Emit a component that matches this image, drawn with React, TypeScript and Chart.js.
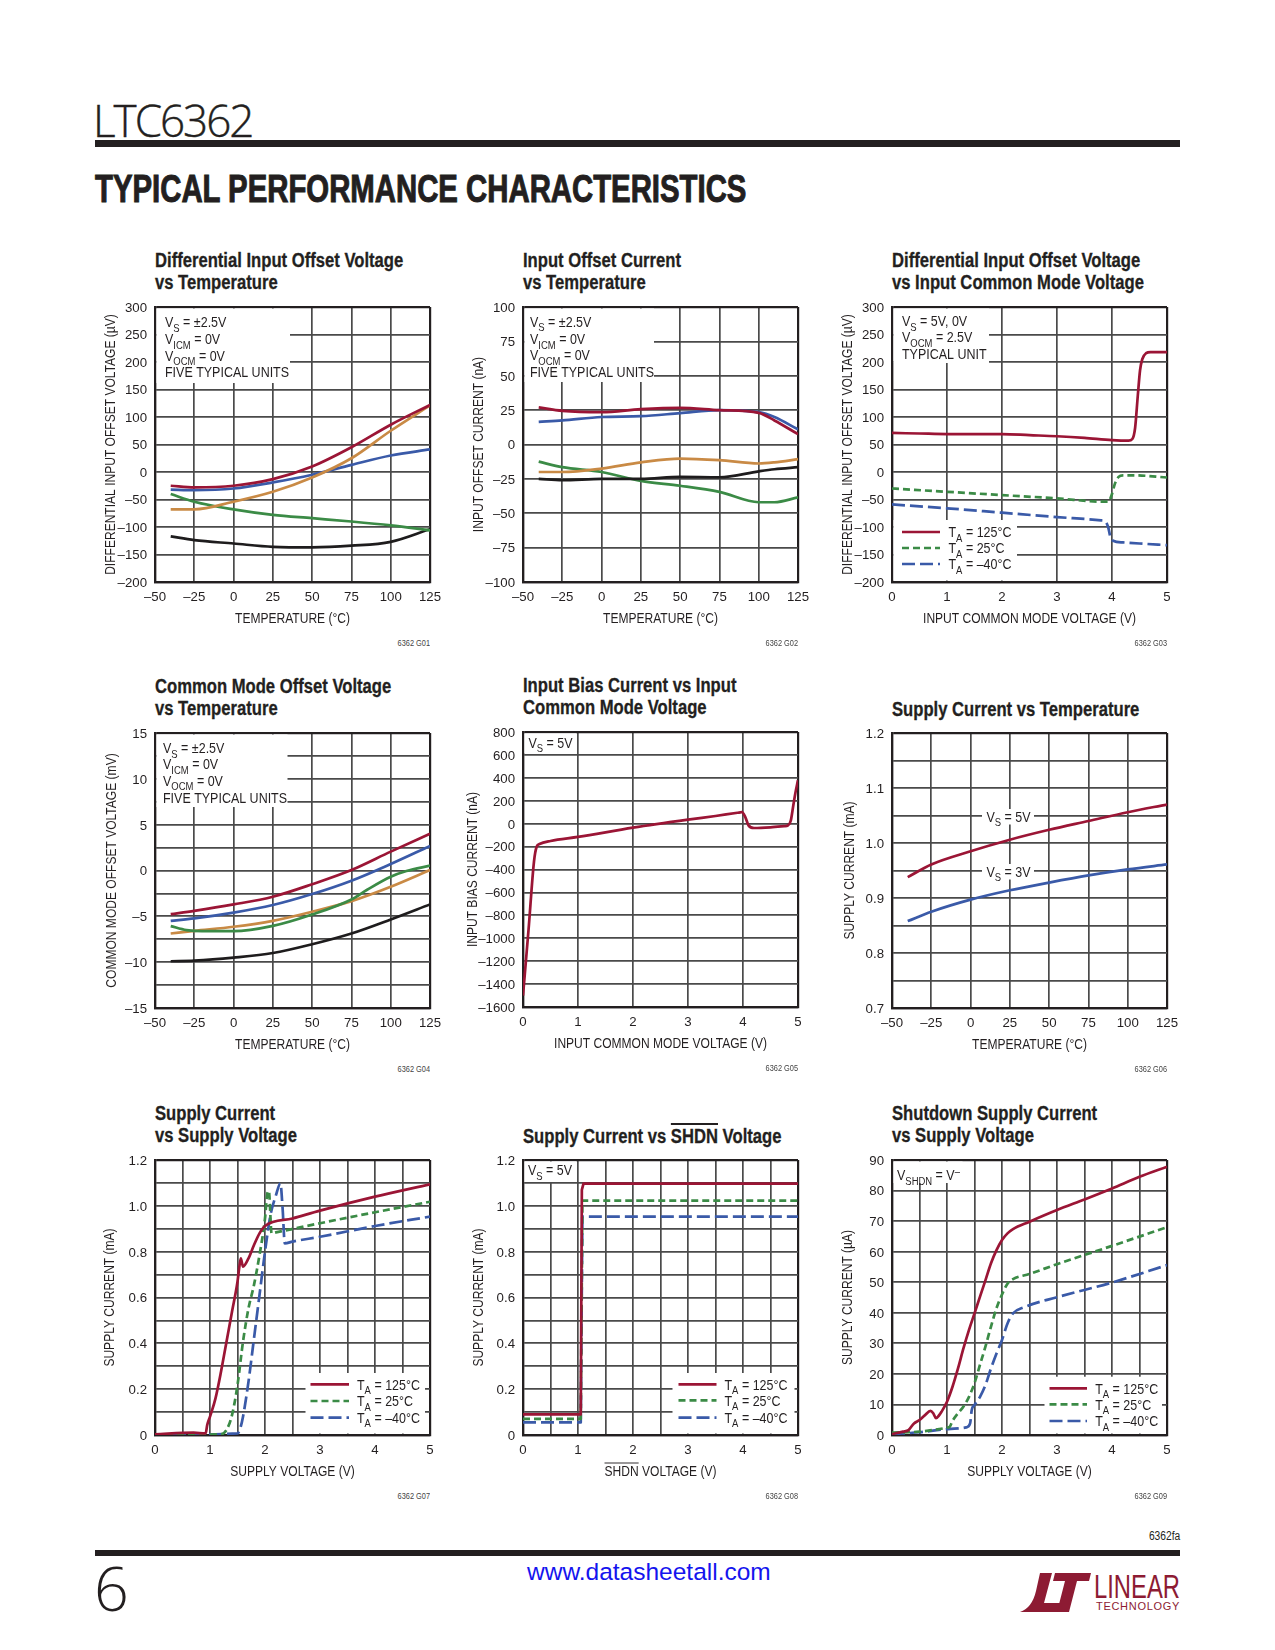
import React, { useEffect, useRef } from "react";
import { Chart, registerables } from "chart.js";

Chart.register(...registerables);

const SANS = '"Liberation Sans", Arial, sans-serif';
const INK = "#231f20";
const GRID = "#4a4a4a";
const RED = "#9b1535";
const BLUE = "#3a5aa8";
const GREEN = "#3b8b46";
const ORANGE = "#c98a45";
const BLACK = "#1e1c1d";
const DASH_25 = [7, 4];
const DASH_M40 = [13, 5];

// ---------- tick arrays ----------
const TEMP_TICKS = [-50, -25, 0, 25, 50, 75, 100, 125];
const VOLT_TICKS = [0, 1, 2, 3, 4, 5];
const VOLT_HALF_TICKS = [0, 0.5, 1, 1.5, 2, 2.5, 3, 3.5, 4, 4.5, 5];
const UV_TICKS = [-200, -150, -100, -50, 0, 50, 100, 150, 200, 250, 300];
const NA_TICKS = [-100, -75, -50, -25, 0, 25, 50, 75, 100];
const MV_TICKS = [-15, -12.5, -10, -7.5, -5, -2.5, 0, 2.5, 5, 7.5, 10, 12.5, 15];
const IB_TICKS = [-1600, -1400, -1200, -1000, -800, -600, -400, -200, 0, 200, 400, 600, 800];
const ISUP_T_TICKS = [0.7, 0.75, 0.8, 0.85, 0.9, 0.95, 1.0, 1.05, 1.1, 1.15, 1.2];
const MA_TICKS = [0, 0.1, 0.2, 0.3, 0.4, 0.5, 0.6, 0.7, 0.8, 0.9, 1.0, 1.1, 1.2];
const UA_TICKS = [0, 10, 20, 30, 40, 50, 60, 70, 80, 90];

// ---------- data ----------
const TEMP_X = [-40, -25, 0, 25, 50, 75, 100, 125];

// G01 differential input offset voltage vs temperature (µV)
const G01_RED = [-25, -28, -25, -13, 10, 45, 86, 122];
const G01_BLUE = [-32, -33, -30, -19, -5, 13, 30, 41];
const G01_ORANGE = [-68, -68, -54, -36, -10, 25, 75, 121];
const G01_GREEN = [-40, -54, -68, -78, -84, -90, -97, -106];
const G01_BLACK = [-117, -124, -130, -136, -137, -134, -127, -104];

// G02 input offset current vs temperature (nA)
const G02_X = [-40, -25, 0, 25, 50, 75, 100, 110, 125];
const G02_RED = [27, 24.5, 23.5, 25.7, 26.7, 25, 23, 17.5, 7.5];
const G02_BLUE = [16.5, 17.5, 20, 20.6, 22.8, 25, 23.5, 20, 11];
const G02_ORANGE = [-20, -20, -17.5, -13, -10.2, -11.4, -13.8, -13, -10.7];
const G02_BLACK = [-25, -26, -25, -25, -23.5, -23.8, -19.5, -18, -16.5];
const G02_GREEN = [-12.5, -16.5, -20, -26.5, -30, -34.5, -42, -42, -38.5];

// G03 differential input offset vs input common mode voltage (µV)
const G03_RED_X = [0, 0.5, 1, 1.5, 2, 2.5, 3, 3.5, 4, 4.3, 4.37, 4.42, 4.47, 4.51, 4.55, 4.62, 4.7, 5];
const G03_RED = [71, 70, 69, 69, 69, 67, 65, 62, 58, 57, 60, 80, 140, 185, 205, 216, 218, 218];
const G03_GREEN_X = [0, 1, 2, 3, 3.85, 3.93, 4.0, 4.05, 4.12, 4.2, 4.4, 5];
const G03_GREEN = [-30, -36, -42, -48, -54, -54, -40, -22, -9, -6, -6, -10];
const G03_BLUE_X = [0, 1, 2, 3, 3.8, 3.88, 3.93, 3.97, 4.02, 4.2, 4.5, 5];
const G03_BLUE = [-59, -66, -74, -82, -88, -90, -100, -118, -125, -128, -130, -133];

// G04 common mode offset voltage vs temperature (mV)
const G04_RED = [-4.76, -4.4, -3.7, -2.86, -1.5, 0.05, 2.06, 4.0];
const G04_BLUE = [-5.5, -5.23, -4.6, -3.77, -2.57, -1.11, 0.71, 2.68];
const G04_ORANGE = [-6.87, -6.58, -6.14, -5.49, -4.5, -3.34, -1.77, 0.05];
const G04_GREEN_X = [-40, -30, -20, 0, 25, 50, 75, 85, 100, 110, 125];
const G04_GREEN = [-6.07, -6.5, -6.62, -6.62, -6.04, -4.8, -3.16, -2.1, -0.68, -0.06, 0.53];
const G04_BLACK = [-9.9, -9.83, -9.5, -9.0, -8.04, -6.87, -5.34, -3.7];

// G05 input bias current vs input common mode voltage (nA)
const G05_X = [0, 0.1, 0.2, 0.25, 0.3, 0.5, 1, 2, 3, 3.5, 3.9, 3.98, 4.04, 4.1, 4.2, 4.5, 4.75, 4.82, 4.87, 4.91, 4.95, 5];
const G05_Y = [-1500, -930, -330, -200, -178, -151, -116, -35, 35, 67, 95, 100, 60, -15, -38, -32, -22, -15, 29, 145, 262, 380];

// G06 supply current vs temperature (mA)
const G06_VS5 = [0.938, 0.961, 0.985, 1.006, 1.024, 1.04, 1.056, 1.07];
const G06_VS3 = [0.858, 0.875, 0.897, 0.914, 0.928, 0.941, 0.952, 0.961];

// G07 supply current vs supply voltage (mA)
const G07_RED_X = [0, 0.7, 0.92, 0.95, 1.0, 1.1, 1.2, 1.3, 1.4, 1.5, 1.53, 1.56, 1.6, 1.7, 1.8, 1.9, 2.0, 2.5, 3, 4, 5];
const G07_RED = [0.003, 0.01, 0.007, 0.044, 0.08, 0.16, 0.276, 0.407, 0.538, 0.669, 0.727, 0.771, 0.735, 0.771, 0.829, 0.88, 0.912, 0.945, 0.979, 1.04, 1.094];
const G07_GREEN_X = [0, 1.2, 1.3, 1.4, 1.5, 1.6, 1.7, 1.8, 1.9, 2.0, 2.04, 2.07, 2.12, 2.2, 3, 4, 5];
const G07_GREEN = [0, 0.003, 0.022, 0.087, 0.218, 0.407, 0.553, 0.655, 0.785, 0.945, 1.05, 1.065, 0.88, 0.884, 0.924, 0.972, 1.018];
const G07_BLUE_X = [0, 1.5, 1.55, 1.6, 1.7, 1.8, 1.9, 2.0, 2.1, 2.2, 2.28, 2.32, 2.36, 2.5, 3, 4, 5];
const G07_BLUE = [0, 0.007, 0.029, 0.08, 0.233, 0.422, 0.611, 0.8, 0.96, 1.047, 1.098, 0.989, 0.836, 0.844, 0.865, 0.912, 0.953];

// G08 supply current vs SHDN voltage (mA)
const G08_RED_X = [0, 1.05, 1.07, 1.1, 5];
const G08_RED = [0.09, 0.09, 1.07, 1.097, 1.097];
const G08_GREEN_X = [0, 1.05, 1.08, 5];
const G08_GREEN = [0.07, 0.07, 1.023, 1.023];
const G08_BLUE_X = [0, 1.05, 1.08, 5];
const G08_BLUE = [0.055, 0.055, 0.953, 0.953];

// G09 shutdown supply current vs supply voltage (µA)
const G09_RED_X = [0, 0.2, 0.3, 0.4, 0.5, 0.6, 0.7, 0.75, 0.8, 0.85, 0.9, 1.0, 1.1, 1.2, 1.3, 1.4, 1.5, 1.6, 1.7, 1.8, 1.9, 2.0, 2.1, 2.2, 2.5, 3, 3.5, 4, 4.5, 5];
const G09_RED = [0.3, 1.1, 1.6, 3.8, 4.9, 6.5, 7.9, 7.1, 5.5, 6.3, 7.6, 10.9, 15.8, 21.8, 28.4, 34.4, 39.8, 45.3, 50.7, 56.2, 60.5, 63.8, 66, 67.4, 69.8, 73.6, 77.1, 80.7, 84.5, 87.8];
const G09_GREEN_X = [0, 0.5, 1.0, 1.05, 1.1, 1.2, 1.3, 1.4, 1.5, 1.6, 1.7, 1.8, 1.9, 2.0, 2.1, 2.2, 2.5, 3, 4, 5];
const G09_GREEN = [0.8, 1.1, 2.4, 2.7, 4.6, 7.1, 9.3, 12.5, 17, 23, 29, 35.5, 41.5, 46, 49.5, 51, 52.7, 55.9, 61.9, 68];
const G09_BLUE_X = [0, 0.5, 1.0, 1.35, 1.42, 1.45, 1.5, 1.6, 1.7, 1.8, 1.9, 2.0, 2.1, 2.2, 2.4, 3, 4, 5];
const G09_BLUE = [0.3, 0.9, 1.9, 2.5, 3.8, 8.2, 9.8, 12.5, 16.4, 21.8, 26.7, 31.1, 36.5, 39.8, 41.8, 45.1, 49.9, 55.6];

// ---------- layout constants ----------
const L_AXIS = 75;
const T_PAD = 20;
const R_PAD = 25;
const B_AXIS = 55;
const PLOT = 275;
const TICK_SIZE = 13.5;
const TICK_SX = 0.98;
const AXT_SIZE = 14;
const AXT_SX = 0.86;
const NOTE_SIZE = 14.5;
const NOTE_SX = 0.86;

type Series = { x: number[]; y: number[]; color: string; dash?: number[]; smooth?: boolean };
type Note = { x: number; y: number; s: string; center?: boolean };
type Sample = { x0: number; x1: number; y: number; color: string; dash?: number[] };
type Panel = {
  id: string;
  left: number;
  top: number;
  title: string[];
  xTitle: string;
  yTitle: string;
  xTicks: number[];
  yTicks: number[];
  xEvery: number;
  yEvery: number;
  yFmt?: (v: number) => string;
  yGap: number;
  series: Series[];
  boxes: number[][];
  notes: Note[];
  samples: Sample[];
  overlineX?: string;
};

const fmtInt = (v: number) => (v < 0 ? "\u2013" + String(-v) : String(v));
const fmt1 = (v: number) => (v === 0 ? "0" : v.toFixed(1));

const tempLegend = (x0: number, x1: number, tx: number, ys: number[]): { samples: Sample[]; notes: Note[] } => ({
  samples: [
    { x0, x1, y: ys[0], color: RED },
    { x0, x1, y: ys[1], color: GREEN, dash: DASH_25 },
    { x0, x1, y: ys[2], color: BLUE, dash: DASH_M40 },
  ],
  notes: [
    { x: tx, y: ys[0], s: "T_{A} = 125°C" },
    { x: tx, y: ys[1], s: "T_{A} = 25°C" },
    { x: tx, y: ys[2], s: "T_{A} = \u201340°C" },
  ],
});

const leg3 = tempLegend(10, 48, 56.5, [225, 241, 257]);
const leg7 = tempLegend(155.5, 194, 202, [224.3, 241, 257.7]);
const leg8 = tempLegend(155.5, 193.5, 201.5, [224.3, 240.3, 257.7]);
const leg9 = tempLegend(157.5, 195, 203.2, [228.3, 244.3, 261]);

const fiveUnits = (x: number, ys: number[]): Note[] => [
  { x, y: ys[0], s: "V_{S} = ±2.5V" },
  { x, y: ys[1], s: "V_{ICM} = 0V" },
  { x, y: ys[2], s: "V_{OCM} = 0V" },
  { x, y: ys[3], s: "FIVE TYPICAL UNITS" },
];

const PANELS: Panel[] = [
  {
    id: "G01", left: 155, top: 307,
    title: ["Differential Input Offset Voltage", "vs Temperature"],
    xTitle: "TEMPERATURE (°C)", yTitle: "DIFFERENTIAL INPUT OFFSET VOLTAGE (\u00b5V)",
    xTicks: TEMP_TICKS, yTicks: UV_TICKS, xEvery: 1, yEvery: 1, yGap: 45,
    series: [
      { x: TEMP_X, y: G01_RED, color: RED, smooth: true },
      { x: TEMP_X, y: G01_ORANGE, color: ORANGE, smooth: true },
      { x: TEMP_X, y: G01_BLUE, color: BLUE, smooth: true },
      { x: TEMP_X, y: G01_GREEN, color: GREEN, smooth: true },
      { x: TEMP_X, y: G01_BLACK, color: BLACK, smooth: true },
    ],
    boxes: [[1.5, 1.5, 135, 76]],
    notes: fiveUnits(10, [15, 32, 48.5, 65]),
    samples: [],
  },
  {
    id: "G02", left: 523, top: 307,
    title: ["Input Offset Current", "vs Temperature"],
    xTitle: "TEMPERATURE (°C)", yTitle: "INPUT OFFSET CURRENT (nA)",
    xTicks: TEMP_TICKS, yTicks: NA_TICKS, xEvery: 1, yEvery: 1, yGap: 45.5,
    series: [
      { x: G02_X, y: G02_RED, color: RED, smooth: true },
      { x: G02_X, y: G02_BLUE, color: BLUE, smooth: true },
      { x: G02_X, y: G02_ORANGE, color: ORANGE, smooth: true },
      { x: G02_X, y: G02_BLACK, color: BLACK, smooth: true },
      { x: G02_X, y: G02_GREEN, color: GREEN, smooth: true },
    ],
    boxes: [[1.5, 1.5, 131, 75]],
    notes: fiveUnits(7, [14.7, 32, 48, 64.7]),
    samples: [],
  },
  {
    id: "G03", left: 892, top: 307,
    title: ["Differential Input Offset Voltage", "vs Input Common Mode Voltage"],
    xTitle: "INPUT COMMON MODE VOLTAGE (V)", yTitle: "DIFFERENTIAL INPUT OFFSET VOLTAGE (\u00b5V)",
    xTicks: VOLT_TICKS, yTicks: UV_TICKS, xEvery: 1, yEvery: 1, yGap: 45.5,
    series: [
      { x: G03_RED_X, y: G03_RED, color: RED, smooth: true },
      { x: G03_GREEN_X, y: G03_GREEN, color: GREEN, dash: DASH_25, smooth: true },
      { x: G03_BLUE_X, y: G03_BLUE, color: BLUE, dash: DASH_M40, smooth: true },
    ],
    boxes: [[1.5, 1.5, 97, 56], [1.5, 213, 125, 273.5]],
    notes: [
      { x: 10, y: 14, s: "V_{S} = 5V, 0V" },
      { x: 10, y: 30, s: "V_{OCM} = 2.5V" },
      { x: 10, y: 47, s: "TYPICAL UNIT" },
      ...leg3.notes,
    ],
    samples: leg3.samples,
  },
  {
    id: "G04", left: 155, top: 733,
    title: ["Common Mode Offset Voltage", "vs Temperature"],
    xTitle: "TEMPERATURE (°C)", yTitle: "COMMON MODE OFFSET VOLTAGE (mV)",
    xTicks: TEMP_TICKS, yTicks: MV_TICKS, xEvery: 1, yEvery: 2, yGap: 44,
    series: [
      { x: TEMP_X, y: G04_RED, color: RED, smooth: true },
      { x: TEMP_X, y: G04_BLUE, color: BLUE, smooth: true },
      { x: G04_GREEN_X, y: G04_GREEN, color: GREEN, smooth: true },
      { x: TEMP_X, y: G04_ORANGE, color: ORANGE, smooth: true },
      { x: TEMP_X, y: G04_BLACK, color: BLACK, smooth: true },
    ],
    boxes: [[1.5, 1.5, 132.5, 74]],
    notes: fiveUnits(8, [15, 31, 47.7, 64.7]),
    samples: [],
  },
  {
    id: "G05", left: 523, top: 732,
    title: ["Input Bias Current vs Input", "Common Mode Voltage"],
    xTitle: "INPUT COMMON MODE VOLTAGE (V)", yTitle: "INPUT BIAS CURRENT (nA)",
    xTicks: VOLT_TICKS, yTicks: IB_TICKS, xEvery: 1, yEvery: 1, yGap: 51.5,
    series: [{ x: G05_X, y: G05_Y, color: RED, smooth: true }],
    boxes: [[1.5, 1.5, 53, 21]],
    notes: [{ x: 5.5, y: 10.7, s: "V_{S} = 5V" }],
    samples: [],
  },
  {
    id: "G06", left: 892, top: 733,
    title: ["Supply Current vs Temperature"],
    xTitle: "TEMPERATURE (°C)", yTitle: "SUPPLY CURRENT (mA)",
    xTicks: TEMP_TICKS, yTicks: ISUP_T_TICKS, xEvery: 1, yEvery: 2, yFmt: (v) => v.toFixed(1), yGap: 43.5,
    series: [
      { x: TEMP_X, y: G06_VS5, color: RED, smooth: true },
      { x: TEMP_X, y: G06_VS3, color: BLUE, smooth: true },
    ],
    boxes: [[90, 76, 142, 91.5], [90, 131, 142, 146.5]],
    notes: [
      { x: 116.5, y: 83.7, s: "V_{S} = 5V", center: true },
      { x: 116.5, y: 138.7, s: "V_{S} = 3V", center: true },
    ],
    samples: [],
  },
  {
    id: "G07", left: 155, top: 1160,
    title: ["Supply Current", "vs Supply Voltage"],
    xTitle: "SUPPLY VOLTAGE (V)", yTitle: "SUPPLY CURRENT (mA)",
    xTicks: VOLT_HALF_TICKS, yTicks: MA_TICKS, xEvery: 2, yEvery: 2, yFmt: fmt1, yGap: 46,
    series: [
      { x: G07_RED_X, y: G07_RED, color: RED, smooth: true },
      { x: G07_GREEN_X, y: G07_GREEN, color: GREEN, dash: DASH_25, smooth: true },
      { x: G07_BLUE_X, y: G07_BLUE, color: BLUE, dash: DASH_M40, smooth: true },
    ],
    boxes: [[150.5, 213, 270, 273.5]],
    notes: leg7.notes,
    samples: leg7.samples,
  },
  {
    id: "G08", left: 523, top: 1160,
    title: ["Supply Current vs ~SHDN~ Voltage"],
    xTitle: "SHDN VOLTAGE (V)", yTitle: "SUPPLY CURRENT (mA)",
    xTicks: VOLT_HALF_TICKS, yTicks: MA_TICKS, xEvery: 2, yEvery: 2, yFmt: fmt1, yGap: 45.5,
    series: [
      { x: G08_RED_X, y: G08_RED, color: RED },
      { x: G08_GREEN_X, y: G08_GREEN, color: GREEN, dash: DASH_25 },
      { x: G08_BLUE_X, y: G08_BLUE, color: BLUE, dash: DASH_M40 },
    ],
    boxes: [[1.5, 1.5, 53, 22], [149.5, 213, 271.5, 273.5]],
    notes: [{ x: 5, y: 10, s: "V_{S} = 5V" }, ...leg8.notes],
    samples: leg8.samples,
    overlineX: "SHDN",
  },
  {
    id: "G09", left: 892, top: 1160,
    title: ["Shutdown Supply Current", "vs Supply Voltage"],
    xTitle: "SUPPLY VOLTAGE (V)", yTitle: "SUPPLY CURRENT (\u00b5A)",
    xTicks: VOLT_HALF_TICKS, yTicks: UA_TICKS, xEvery: 2, yEvery: 1, yGap: 45.5,
    series: [
      { x: G09_RED_X, y: G09_RED, color: RED, smooth: true },
      { x: G09_GREEN_X, y: G09_GREEN, color: GREEN, dash: DASH_25, smooth: true },
      { x: G09_BLUE_X, y: G09_BLUE, color: BLUE, dash: DASH_M40, smooth: true },
    ],
    boxes: [[1.5, 1.5, 70.5, 23], [152.5, 216.7, 270, 273.5]],
    notes: [{ x: 5, y: 15, s: "V_{SHDN} = V^{\u2013}" }, ...leg9.notes],
    samples: leg9.samples,
  },
];

// ---------- canvas text helpers (horizontally condensed sans) ----------
function ctext(
  ctx: CanvasRenderingContext2D,
  s: string,
  x: number,
  y: number,
  size: number,
  sx: number,
  align: CanvasTextAlign,
  rot = 0
) {
  ctx.save();
  ctx.translate(x, y);
  if (rot) ctx.rotate(rot);
  ctx.scale(sx, 1);
  ctx.font = `${size}px ${SANS}`;
  ctx.textAlign = align;
  ctx.textBaseline = "alphabetic";
  ctx.fillStyle = INK;
  ctx.fillText(s, 0, size * 0.36);
  ctx.restore();
}

function parseRich(s: string) {
  const out: { t: string; k: number }[] = [];
  let i = 0;
  const isMark = (j: number) => (s[j] === "_" || s[j] === "^") && s[j + 1] === "{";
  while (i < s.length) {
    if (isMark(i)) {
      const end = s.indexOf("}", i);
      out.push({ t: s.slice(i + 2, end), k: s[i] === "_" ? 1 : 2 });
      i = end + 1;
    } else {
      let j = i;
      while (j < s.length && !isMark(j)) j++;
      out.push({ t: s.slice(i, j), k: 0 });
      i = j;
    }
  }
  return out;
}

function drawRich(ctx: CanvasRenderingContext2D, s: string, x: number, y: number, center?: boolean) {
  const segs = parseRich(s);
  const size = NOTE_SIZE;
  const fontFor = (k: number) => `${k ? size * 0.76 : size}px ${SANS}`;
  ctx.save();
  ctx.translate(x, y);
  ctx.scale(NOTE_SX, 1);
  let total = 0;
  for (const g of segs) {
    ctx.font = fontFor(g.k);
    total += ctx.measureText(g.t).width;
  }
  let cx = center ? -total / 2 : 0;
  const base = size * 0.36;
  ctx.fillStyle = INK;
  ctx.textBaseline = "alphabetic";
  ctx.textAlign = "left";
  for (const g of segs) {
    ctx.font = fontFor(g.k);
    const dy = g.k === 1 ? size * 0.3 : g.k === 2 ? -size * 0.38 : 0;
    ctx.fillText(g.t, cx, base + dy);
    cx += ctx.measureText(g.t).width;
  }
  ctx.restore();
}

function PanelChart({ p }: { p: Panel }) {
  const ref = useRef<HTMLCanvasElement | null>(null);
  useEffect(() => {
    const canvas = ref.current;
    if (!canvas) return;
    const yFmt = p.yFmt || fmtInt;
    const annot = {
      id: "annot" + p.id,
      beforeDatasetsDraw(chart: any) {
        const { ctx, chartArea } = chart;
        ctx.save();
        ctx.fillStyle = "#ffffff";
        for (const b of p.boxes) {
          ctx.fillRect(chartArea.left + b[0], chartArea.top + b[1], b[2] - b[0], b[3] - b[1]);
        }
        ctx.restore();
      },
      afterDatasetsDraw(chart: any) {
        const { ctx, chartArea } = chart;
        const xs = chart.scales.x;
        const ys = chart.scales.y;
        ctx.save();
        // tick labels
        p.xTicks.forEach((v, i) => {
          if (i % p.xEvery !== 0) return;
          ctext(ctx, fmtInt(v), xs.getPixelForValue(v), chartArea.bottom + 14.3, TICK_SIZE, TICK_SX, "center");
        });
        p.yTicks.forEach((v, i) => {
          if (i % p.yEvery !== 0) return;
          ctext(ctx, yFmt(v), chartArea.left - 8, ys.getPixelForValue(v), TICK_SIZE, TICK_SX, "right");
        });
        // axis titles
        const cxT = (chartArea.left + chartArea.right) / 2;
        const cyT = chartArea.bottom + 35.5;
        ctext(ctx, p.xTitle, cxT, cyT, AXT_SIZE, AXT_SX, "center");
        if (p.overlineX) {
          ctx.save();
          ctx.translate(cxT, cyT);
          ctx.scale(AXT_SX, 1);
          ctx.font = `${AXT_SIZE}px ${SANS}`;
          const w = ctx.measureText(p.xTitle).width;
          const sw = ctx.measureText(p.overlineX).width;
          ctx.beginPath();
          ctx.strokeStyle = INK;
          ctx.lineWidth = 1;
          ctx.moveTo(-w / 2, -7.5);
          ctx.lineTo(-w / 2 + sw, -7.5);
          ctx.stroke();
          ctx.restore();
        }
        ctext(
          ctx,
          p.yTitle,
          chartArea.left - p.yGap,
          (chartArea.top + chartArea.bottom) / 2,
          AXT_SIZE,
          AXT_SX,
          "center",
          -Math.PI / 2
        );
        // legend samples & notes
        for (const sm of p.samples) {
          ctx.beginPath();
          ctx.strokeStyle = sm.color;
          ctx.lineWidth = 2.7;
          ctx.setLineDash(sm.dash || []);
          ctx.moveTo(chartArea.left + sm.x0, chartArea.top + sm.y);
          ctx.lineTo(chartArea.left + sm.x1, chartArea.top + sm.y);
          ctx.stroke();
        }
        ctx.setLineDash([]);
        for (const n of p.notes) {
          if (n.s) drawRich(ctx, n.s, chartArea.left + n.x, chartArea.top + n.y, n.center);
        }
        ctx.restore();
      },
    };
    const gridColor = (c: any) => {
      const s = c.scale;
      const v = c.tick ? c.tick.value : NaN;
      return v === s.min || v === s.max ? INK : GRID;
    };
    const gridWidth = (c: any) => {
      const s = c.scale;
      const v = c.tick ? c.tick.value : NaN;
      return v === s.min || v === s.max ? 2.2 : 1.7;
    };
    const chart = new Chart(canvas, {
      type: "line",
      data: {
        datasets: p.series.map((s) => ({
          data: s.x.map((x, i) => ({ x, y: s.y[i] })),
          borderColor: s.color,
          borderWidth: 2.7,
          borderDash: s.dash || [],
          pointRadius: 0,
          fill: false,
          tension: 0,
          cubicInterpolationMode: s.smooth ? "monotone" : "default",
          borderCapStyle: "butt",
          borderJoinStyle: "round",
        })),
      },
      options: {
        responsive: false,
        animation: false,
        events: [],
        layout: { padding: { top: T_PAD, right: R_PAD, left: 0, bottom: 0 } },
        plugins: { legend: { display: false }, tooltip: { enabled: false }, title: { display: false } },
        scales: {
          x: {
            type: "linear",
            min: p.xTicks[0],
            max: p.xTicks[p.xTicks.length - 1],
            afterBuildTicks: (s: any) => {
              s.ticks = p.xTicks.map((v) => ({ value: v }));
            },
            afterFit: (s: any) => {
              s.height = B_AXIS;
            },
            ticks: { display: false, autoSkip: false },
            grid: { drawTicks: false, color: gridColor, lineWidth: gridWidth },
            border: { display: true, color: INK, width: 2.2 },
            title: { display: false },
          },
          y: {
            type: "linear",
            min: p.yTicks[0],
            max: p.yTicks[p.yTicks.length - 1],
            afterBuildTicks: (s: any) => {
              s.ticks = p.yTicks.map((v) => ({ value: v }));
            },
            afterFit: (s: any) => {
              s.width = L_AXIS;
            },
            ticks: { display: false, autoSkip: false },
            grid: { drawTicks: false, color: gridColor, lineWidth: gridWidth },
            border: { display: true, color: INK, width: 2.2 },
            title: { display: false },
          },
        },
      },
      plugins: [annot],
    } as any);
    return () => chart.destroy();
  }, [p]);

  const titleTop = p.title.length === 2 ? p.top - 47 - 11.35 : p.top - 24 - 11.35;
  return (
    <>
      <div
        style={{
          position: "absolute",
          left: p.left,
          top: titleTop,
          fontFamily: SANS,
          fontWeight: 700,
          fontSize: 20.3,
          lineHeight: "22.7px",
          color: INK,
          whiteSpace: "nowrap",
          transform: "scaleX(0.82)",
          transformOrigin: "left top",
          WebkitTextStroke: "0.3px " + INK,
        }}
      >
        {p.title.map((line, li) => (
          <div key={li}>
            {line.split("~").map((part, pi) =>
              pi % 2 ? (
                <span key={pi} style={{ textDecoration: "overline", textDecorationThickness: "1.5px" }}>
                  {part}
                </span>
              ) : (
                <span key={pi}>{part}</span>
              )
            )}
          </div>
        ))}
      </div>
      <canvas
        ref={ref}
        width={L_AXIS + PLOT + R_PAD}
        height={T_PAD + PLOT + B_AXIS}
        style={{
          position: "absolute",
          left: p.left - L_AXIS,
          top: p.top - T_PAD,
          width: L_AXIS + PLOT + R_PAD,
          height: T_PAD + PLOT + B_AXIS,
        }}
      />
      <div
        style={{
          position: "absolute",
          left: p.left + PLOT - 100,
          width: 100,
          textAlign: "right",
          top: p.top + PLOT + 61 - 6,
          fontFamily: SANS,
          fontSize: 9,
          lineHeight: "12px",
          color: "#444",
          transform: "scaleX(0.82)",
          transformOrigin: "right top",
        }}
      >
        6362 {p.id}
      </div>
    </>
  );
}

export default function App() {
  return (
    <div
      style={{
        position: "absolute",
        left: 0,
        top: 0,
        width: 1275,
        height: 1650,
        background: "#ffffff",
        overflow: "hidden",
        color: INK,
      }}
    >
      <div
        style={{
          position: "absolute",
          left: 93,
          top: 98,
          fontFamily: '"Open Sans", Lato, sans-serif',
          fontWeight: 300,
          fontSize: 44,
          lineHeight: "44px",
          letterSpacing: -2,
          whiteSpace: "nowrap",
          WebkitTextStroke: "0.4px " + INK,
        }}
      >
        LTC6362
      </div>
      <div style={{ position: "absolute", left: 95, top: 140, width: 1085, height: 7, background: INK }} />
      <div
        style={{
          position: "absolute",
          left: 95,
          top: 170,
          fontFamily: SANS,
          fontWeight: 700,
          fontSize: 38,
          lineHeight: "38px",
          whiteSpace: "nowrap",
          transform: "scaleX(0.772)",
          transformOrigin: "left top",
          WebkitTextStroke: "1px " + INK,
        }}
      >
        TYPICAL PERFORMANCE CHARACTERISTICS
      </div>

      {PANELS.map((p) => (
        <PanelChart key={p.id} p={p} />
      ))}

      <div
        style={{
          position: "absolute",
          right: 95,
          top: 1529,
          fontFamily: SANS,
          fontSize: 12.5,
          lineHeight: "14px",
          whiteSpace: "nowrap",
          transform: "scaleX(0.82)",
          transformOrigin: "right top",
        }}
      >
        6362fa
      </div>
      <div style={{ position: "absolute", left: 95, top: 1550, width: 1085, height: 6, background: INK }} />
      <div
        style={{
          position: "absolute",
          left: 94,
          top: 1557,
          fontFamily: '"Open Sans", Lato, sans-serif',
          fontWeight: 300,
          fontSize: 61,
          lineHeight: "61px",
        }}
      >
        6
      </div>
      <div
        style={{
          position: "absolute",
          left: 527,
          top: 1560,
          fontFamily: SANS,
          fontSize: 24.5,
          lineHeight: "24.5px",
          color: "#1414ee",
          whiteSpace: "nowrap",
        }}
      >
        www.datasheetall.com
      </div>
      <svg style={{ position: "absolute", left: 1018, top: 1571 }} width={74} height={42} viewBox="0 0 74 42">
        <path d="M22 2 L34 2 L26 32 L44 32 L41 41 L2 41 Q14 37 18 20 Z" fill="#8d1b33" />
        <path d="M37 2 L73 2 L71 10 L59 10 L51 41 L39 41 L47 10 L35 10 Z" fill="#8d1b33" />
      </svg>
      <div
        style={{
          position: "absolute",
          left: 1094,
          top: 1570,
          fontFamily: SANS,
          fontSize: 33.5,
          lineHeight: "33.5px",
          color: "#8d1b33",
          whiteSpace: "nowrap",
          transform: "scaleX(0.71)",
          transformOrigin: "left top",
        }}
      >
        LINEAR
      </div>
      <div
        style={{
          position: "absolute",
          left: 1096,
          top: 1600,
          fontFamily: SANS,
          fontSize: 11,
          lineHeight: "12px",
          color: "#8d1b33",
          whiteSpace: "nowrap",
          letterSpacing: 0.7,
        }}
      >
        TECHNOLOGY
      </div>
    </div>
  );
}
